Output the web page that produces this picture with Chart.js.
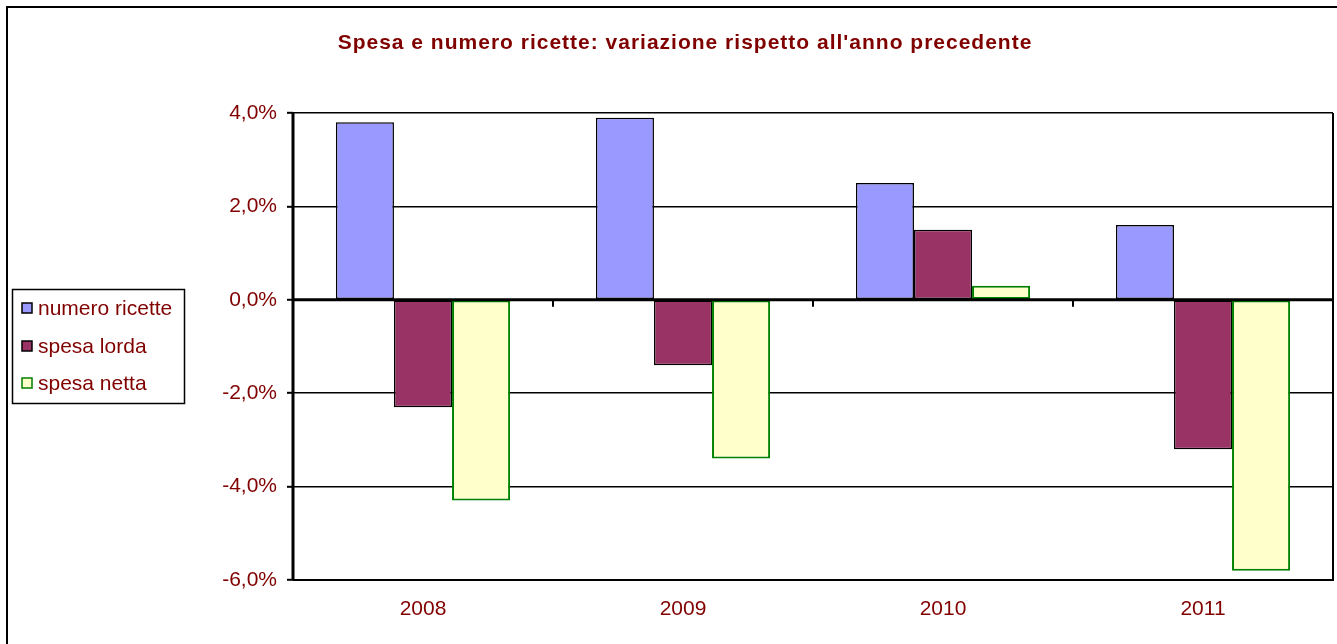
<!DOCTYPE html>
<html>
<head>
<meta charset="utf-8">
<script src="https://cdn.jsdelivr.net/npm/chart.js@4.4.1/dist/chart.umd.min.js"></script>
<style>
html,body{margin:0;padding:0;background:#fff;}
#wrap{width:1337px;height:644px;position:relative;}
</style>
</head>
<body>
<div id="wrap"><canvas id="c" width="1337" height="644"></canvas></div>
<script>
const categories = ['2008', '2009', '2010', '2011'];
const numeroRicette = [3.8, 3.9, 2.5, 1.6];
const spesaLorda = [-2.3, -1.4, 1.5, -3.2];
const spesaNetta = [-4.3, -3.4, 0.3, -5.8];
const yTicks = [-6, -4, -2, 0, 2, 4];
const titleText = "Spesa e numero ricette: variazione rispetto all'anno precedente";
const seriesNames = ['numero ricette', 'spesa lorda', 'spesa netta'];

const TEXT = '#800000';
const FONT = '"Liberation Sans", Arial, sans-serif';

const fmt = v => v.toFixed(1).replace('.', ',') + '%';

const decor = {
  id: 'decor',
  beforeDraw(chart) {
    const ctx = chart.ctx;
    ctx.save();
    ctx.fillStyle = '#fff';
    ctx.fillRect(0, 0, chart.width, chart.height);
    ctx.strokeStyle = '#000';
    ctx.lineWidth = 2;
    ctx.strokeRect(7, 7, chart.width + 50, chart.height + 50);
    ctx.restore();
  },
  afterDatasetsDraw(chart) {
    const ctx = chart.ctx;
    const a = chart.chartArea;
    const x = chart.scales.x, y = chart.scales.y;
    ctx.save();
    ctx.strokeStyle = '#000';
    // right border of plot
    ctx.lineWidth = 2;
    ctx.beginPath();
    ctx.moveTo(a.right, a.top);
    ctx.lineTo(a.right, a.bottom + 1);
    ctx.stroke();
    // bottom border
    ctx.beginPath();
    ctx.moveTo(a.left, a.bottom);
    ctx.lineTo(a.right + 1, a.bottom);
    ctx.stroke();
    // zero line
    const y0 = y.getPixelForValue(0);
    ctx.lineWidth = 3;
    ctx.beginPath();
    ctx.moveTo(a.left, y0);
    ctx.lineTo(a.right, y0);
    ctx.stroke();
    // category boundary ticks
    ctx.lineWidth = 2;
    const step = (a.right - a.left) / categories.length;
    for (let i = 1; i < categories.length; i++) {
      const px = Math.round(x.getPixelForValue(i) - step / 2);
      ctx.beginPath();
      ctx.moveTo(px, y0);
      ctx.lineTo(px, y0 + 7);
      ctx.stroke();
    }
    // left axis
    ctx.lineWidth = 3;
    ctx.beginPath();
    ctx.moveTo(a.left, a.top);
    ctx.lineTo(a.left, a.bottom);
    ctx.stroke();
    ctx.restore();
  },
  afterDraw(chart) {
    const ctx = chart.ctx;
    ctx.save();
    // title
    ctx.fillStyle = TEXT;
    ctx.font = 'bold 21px ' + FONT;
    ctx.letterSpacing = '1px';
    ctx.textAlign = 'center';
    ctx.textBaseline = 'middle';
    ctx.fillText(titleText, 685, 43);
    ctx.letterSpacing = '0px';
    // legend
    ctx.strokeStyle = '#000';
    ctx.lineWidth = 1.5;
    ctx.strokeRect(12.5, 289.5, 172, 114);
    const ys = [308, 346, 383];
    ctx.font = '21px ' + FONT;
    ctx.textAlign = 'left';
    chart.data.datasets.forEach((ds, i) => {
      ctx.fillStyle = ds.backgroundColor;
      ctx.fillRect(22, ys[i] - 5, 10, 10);
      ctx.strokeStyle = ds.borderColor;
      ctx.lineWidth = 1.5;
      ctx.strokeRect(22, ys[i] - 5, 10, 10);
      ctx.fillStyle = TEXT;
      ctx.fillText(ds.label, 38, ys[i] + 1);
    });
    ctx.restore();
  }
};

new Chart(document.getElementById('c'), {
  type: 'bar',
  data: {
    labels: categories,
    datasets: [
      { label: seriesNames[0], data: numeroRicette, backgroundColor: '#9999FF', borderColor: '#000000', borderWidth: 1.5 },
      { label: seriesNames[1], data: spesaLorda, backgroundColor: '#993366', borderColor: '#000000', borderWidth: 1.5 },
      { label: seriesNames[2], data: spesaNetta, backgroundColor: '#FFFFCC', borderColor: '#008000', borderWidth: 2 }
    ]
  },
  options: {
    responsive: false,
    animation: false,
    devicePixelRatio: 1,
    layout: { padding: { top: 113, right: 4, bottom: 0, left: 0 } },
    datasets: { bar: { categoryPercentage: 0.67, barPercentage: 1.0, borderSkipped: false } },
    plugins: { legend: { display: false }, title: { display: false }, tooltip: { enabled: false } },
    scales: {
      x: {
        grid: { display: false },
        border: { display: false },
        ticks: { color: TEXT, font: { family: FONT, size: 21 }, padding: 9 },
        afterFit(s) { s.height = 64; }
      },
      y: {
        min: -6, max: 4,
        afterBuildTicks(s) { s.ticks = yTicks.map(v => ({ value: v })); },
        grid: { color: '#000', lineWidth: 1.6, tickLength: 6, tickColor: '#000', tickWidth: 2 },
        border: { display: false },
        ticks: { color: TEXT, font: { family: FONT, size: 21 }, padding: 10, callback: v => fmt(v) },
        afterFit(s) { s.width = 293; }
      }
    }
  },
  plugins: [decor]
});
</script>
</body>
</html>
